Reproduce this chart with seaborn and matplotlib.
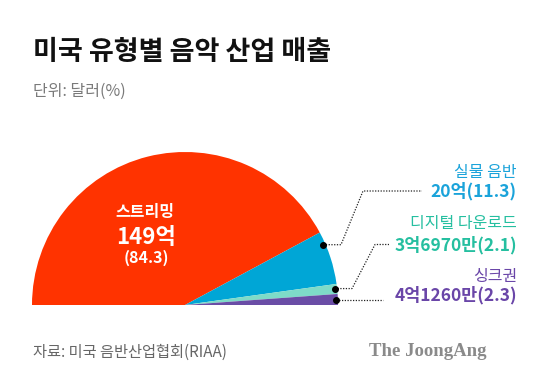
import numpy as np
import matplotlib
matplotlib.use("Agg")
import matplotlib.pyplot as plt
import seaborn as sns

# ---- data ----
categories = ["스트리밍", "실물 음반", "디지털 다운로드", "싱크권"]
shares = [84.3, 11.3, 2.1, 2.3]
amounts = ["149억", "20억", "3억6970만", "4억1260만"]

title = "미국 유형별 음악 산업 매출"
subtitle = "단위: 달러(%)"
source = "자료: 미국 음반산업협회(RIAA)"
brand = "The JoongAng"

# ---- style ----
sns.set_theme(style="white")
plt.rcParams["font.family"] = ["Noto Sans CJK KR", "DejaVu Sans"]

wedge_colors = sns.color_palette(["#FF3300", "#00A6D6", "#7EDBC8", "#6A4DA6"])
text_colors = ["#FFFFFF", "#1AA3DA", "#25BFA0", "#6A46A8"]

W, H = 559, 389
CX, CY, R = 185.0, 305.0, 153.0

fig = plt.figure(figsize=(W / 100, H / 100), dpi=100)
fig.patch.set_facecolor("white")

# pie axes (upper half only visible)
axp = fig.add_axes([(CX - R) / W, (H - CY) / H, 2 * R / W, R / H])
vals = shares + [sum(shares)]
cols = list(wedge_colors) + [(1, 1, 1, 0)]
axp.pie(vals, colors=cols, startangle=180, counterclock=False, radius=1.0,
        wedgeprops=dict(linewidth=0, antialiased=True))
axp.set_aspect("auto")
axp.set_xlim(-1, 1)
axp.set_ylim(0, 1)
axp.axis("off")

# overlay axes in pixel coords
ax = fig.add_axes([0, 0, 1, 1])
ax.set_xlim(0, W)
ax.set_ylim(H, 0)
ax.axis("off")
ax.patch.set_alpha(0)

ax.text(33, 52, title, fontsize=19.5, fontweight="bold", color="#111111",
        ha="left", va="center")
ax.text(33, 91, subtitle, fontsize=11.5, color="#7a7a7a", ha="left", va="center")
ax.text(33, 352, source, fontsize=11, color="#666666", ha="left", va="center")
ax.text(369, 352, brand, fontsize=13.5, fontweight="bold", color="#8a8a8a",
        family=["Liberation Serif"], ha="left", va="center")

# streaming label inside
ax.text(145, 212, categories[0], fontsize=11.5, fontweight="bold", color="white",
        ha="center", va="center")
ax.text(146, 237, amounts[0], fontsize=16, fontweight="bold", color="white",
        ha="center", va="center")
ax.text(146, 258, f"({shares[0]})", fontsize=11.5, fontweight="bold", color="white",
        ha="center", va="center")

# anchors on wedges (fraction measured from wedge start, clockwise)
total = sum(shares)
cum = np.concatenate([[0], np.cumsum(shares)])
anchor_frac = [None, 0.23, 0.44, 0.57]
label_y = [None, (172, 191), (223, 245), (277, 295)]
elbows = [None, [(341, None), (363, 191), (422, 191)],
          [(352, None), (375, 244.5), (389, 244.5)],
          [(383, None)]]
TX = 517
for i in range(1, 4):
    ang = np.deg2rad(180 - 180 * (cum[i] + anchor_frac[i] * shares[i]) / total)
    r = 0.985 * R
    x0 = CX + r * np.cos(ang)
    y0 = CY - r * np.sin(ang)
    xs = [x0]
    ys = [y0]
    for ex, ey in elbows[i]:
        xs.append(ex)
        ys.append(y0 if ey is None else ey)
    ax.plot(xs, ys, color="#222222", lw=0.9, ls=(0, (1, 1.2)))
    ax.plot([x0], [y0], "o", color="black", ms=4)
    ly1, ly2 = label_y[i]
    ax.text(TX, ly1, categories[i], fontsize=11.5, color=text_colors[i],
            ha="right", va="center")
    ax.text(TX, ly2, f"{amounts[i]}({shares[i]})", fontsize=12.5, fontweight="bold",
            color=text_colors[i], ha="right", va="center")

fig.savefig("out.png", dpi=100, facecolor="white")
